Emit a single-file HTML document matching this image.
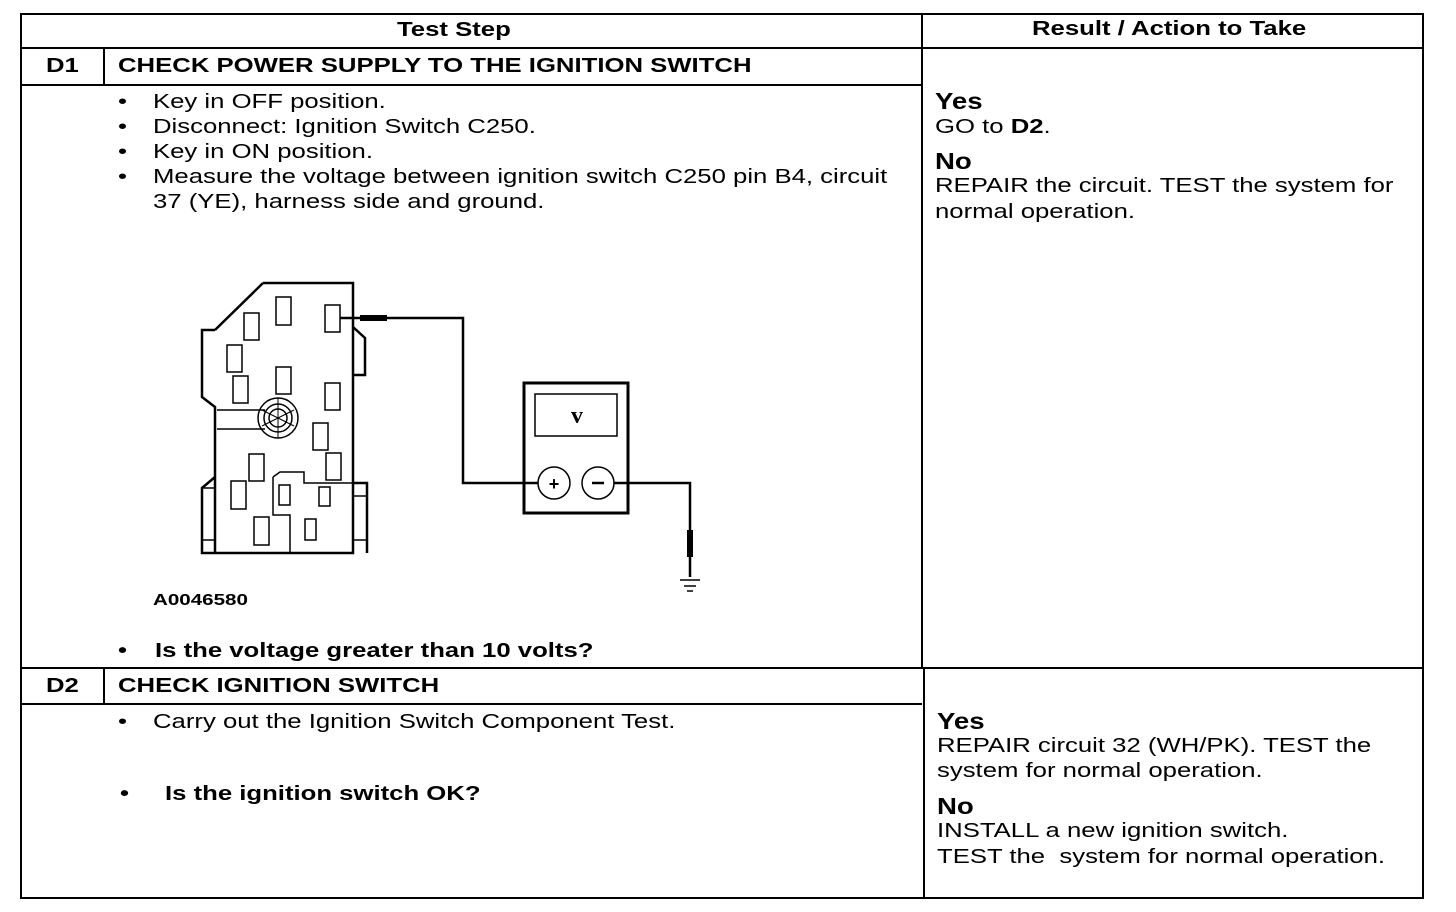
<!DOCTYPE html>
<html><head><meta charset="utf-8"><style>
body{margin:0;background:#fff;width:1456px;height:912px;position:relative;overflow:hidden;font-family:"Liberation Sans",Arial,sans-serif;color:#000}
.t{position:absolute;font-size:20px;line-height:24px;white-space:nowrap;transform:scaleX(1.285);transform-origin:0 0}
.b{font-weight:bold}
.h{position:absolute;background:#000}
</style></head><body>
<div class="h" style="left:20px;top:13px;width:1404px;height:2px"></div>
<div class="h" style="left:20px;top:47px;width:1404px;height:2px"></div>
<div class="h" style="left:20px;top:84px;width:902px;height:2px"></div>
<div class="h" style="left:20px;top:667px;width:1404px;height:2px"></div>
<div class="h" style="left:20px;top:703px;width:902px;height:2px"></div>
<div class="h" style="left:20px;top:897px;width:1404px;height:2px"></div>
<div class="h" style="left:20px;top:13px;width:2px;height:886px"></div>
<div class="h" style="left:1422px;top:13px;width:2px;height:886px"></div>
<div class="h" style="left:921px;top:13px;width:2px;height:656px"></div>
<div class="h" style="left:923px;top:667px;width:2px;height:232px"></div>
<div class="h" style="left:103px;top:47px;width:2px;height:39px"></div>
<div class="h" style="left:103px;top:667px;width:2px;height:38px"></div>

<div class="t b" style="left:397px;top:18px">Test Step</div>
<div class="t b" style="left:1032px;top:17px">Result / Action to Take</div>
<div class="t b" style="left:46px;top:54px">D1</div>
<div class="t b" style="left:118px;top:54px">CHECK POWER SUPPLY TO THE IGNITION SWITCH</div>
<div class="t" style="left:118px;top:90px">•</div><div class="t" style="left:153px;top:90px">Key in OFF position.</div>
<div class="t" style="left:118px;top:115px">•</div><div class="t" style="left:153px;top:115px">Disconnect: Ignition Switch C250.</div>
<div class="t" style="left:118px;top:140px">•</div><div class="t" style="left:153px;top:140px">Key in ON position.</div>
<div class="t" style="left:118px;top:165px">•</div><div class="t" style="left:153px;top:165px">Measure the voltage between ignition switch C250 pin B4, circuit</div>
<div class="t" style="left:153px;top:190px">37 (YE), harness side and ground.</div>
<div class="t b" style="left:153px;top:589px;font-size:16px">A0046580</div>
<div class="t b" style="left:118px;top:639px">•</div><div class="t b" style="left:155px;top:639px">Is the voltage greater than 10 volts?</div>

<div class="t b" style="left:935px;top:89px;font-size:23px;transform:scaleX(1.2)">Yes</div>
<div class="t" style="left:935px;top:115px">GO to <b>D2</b>.</div>
<div class="t b" style="left:935px;top:149px;font-size:23px;transform:scaleX(1.2)">No</div>
<div class="t" style="left:935px;top:174px">REPAIR the circuit. TEST the system for</div>
<div class="t" style="left:935px;top:200px">normal operation.</div>

<div class="t b" style="left:46px;top:674px">D2</div>
<div class="t b" style="left:118px;top:674px">CHECK IGNITION SWITCH</div>
<div class="t" style="left:118px;top:710px">•</div><div class="t" style="left:153px;top:710px">Carry out the Ignition Switch Component Test.</div>
<div class="t b" style="left:120px;top:782px">•</div><div class="t b" style="left:165px;top:782px">Is the ignition switch OK?</div>

<div class="t b" style="left:937px;top:709px;font-size:23px;transform:scaleX(1.2)">Yes</div>
<div class="t" style="left:937px;top:734px">REPAIR circuit 32 (WH/PK). TEST the</div>
<div class="t" style="left:937px;top:759px">system for normal operation.</div>
<div class="t b" style="left:937px;top:794px;font-size:23px;transform:scaleX(1.2)">No</div>
<div class="t" style="left:937px;top:819px">INSTALL a new ignition switch.</div>
<div class="t" style="left:937px;top:845px">TEST the&nbsp; system for normal operation.</div>

<svg style="position:absolute;left:0;top:0" width="1456" height="912">
<g fill="none" stroke="#000" stroke-width="2.5">
<path d="M263,283 L353,283 L353,553 L202,553 L202,488 L215,477 M215,330 L263,283 M215,330 L202,330 L202,397 L215,407 L215,553"/>
<path d="M353,327 L365,338 L365,375 L353,375"/>
<path d="M353,483 L367,483 L367,553"/>
<path d="M202,488 L215,488 M202,540 L215,540 M353,496 L367,496 M353,540 L367,540" stroke-width="1.5"/>
<path d="M217,410 L265,410 M217,429 L265,429" stroke-width="1.5"/>
<path d="M273,477 L280,472 L304,472 L304,483 L353,483 M273,477 L273,515 L290,515 L290,553" stroke-width="1.5"/>
<circle cx="278" cy="418" r="20" stroke-width="1.5"/>
<circle cx="278" cy="418" r="14" stroke-width="1.5"/>
<circle cx="278" cy="418" r="9" stroke-width="1.5"/>
<path d="M278,398 L278,438 M262,410 L294,426 M262,426 L294,410" stroke-width="1"/>
<g stroke-width="1.5">
<rect x="276" y="297" width="15" height="28"/><rect x="325" y="305" width="15" height="27"/>
<rect x="244" y="313" width="15" height="27"/><rect x="227" y="345" width="15" height="27"/>
<rect x="276" y="367" width="15" height="27"/><rect x="233" y="376" width="15" height="27"/>
<rect x="325" y="383" width="15" height="27"/><rect x="313" y="423" width="15" height="27"/>
<rect x="326" y="453" width="15" height="27"/><rect x="249" y="454" width="15" height="27"/>
<rect x="231" y="481" width="15" height="28"/><rect x="279" y="485" width="11" height="20"/>
<rect x="319" y="487" width="11" height="19"/><rect x="254" y="517" width="15" height="28"/>
<rect x="305" y="519" width="11" height="21"/>
</g>
<path d="M340,318 L463,318 L463,483 L538,483"/>
<path d="M360,318 L387,318" stroke-width="6"/>
<rect x="524" y="383" width="104" height="130" stroke-width="3"/>
<rect x="535" y="394" width="82" height="42" stroke-width="1.5"/>
<circle cx="554" cy="483" r="16" stroke-width="1.5"/>
<circle cx="598" cy="483" r="16" stroke-width="1.5"/>
<path d="M614,483 L690,483 L690,577"/>
<path d="M690,530 L690,557" stroke-width="6"/>
<path d="M680,580 L700,580 M684,586 L696,586 M687,591 L693,591" stroke-width="1.5"/>
</g>
<text x="554" y="490" font-family="Liberation Sans" font-weight="bold" font-size="18" text-anchor="middle">+</text>
<path d="M592,483 L604,483" stroke="#000" stroke-width="2.5"/>
<text x="577" y="423" font-family="Liberation Serif" font-weight="bold" font-size="24" text-anchor="middle">v</text>
</svg>
</body></html>
